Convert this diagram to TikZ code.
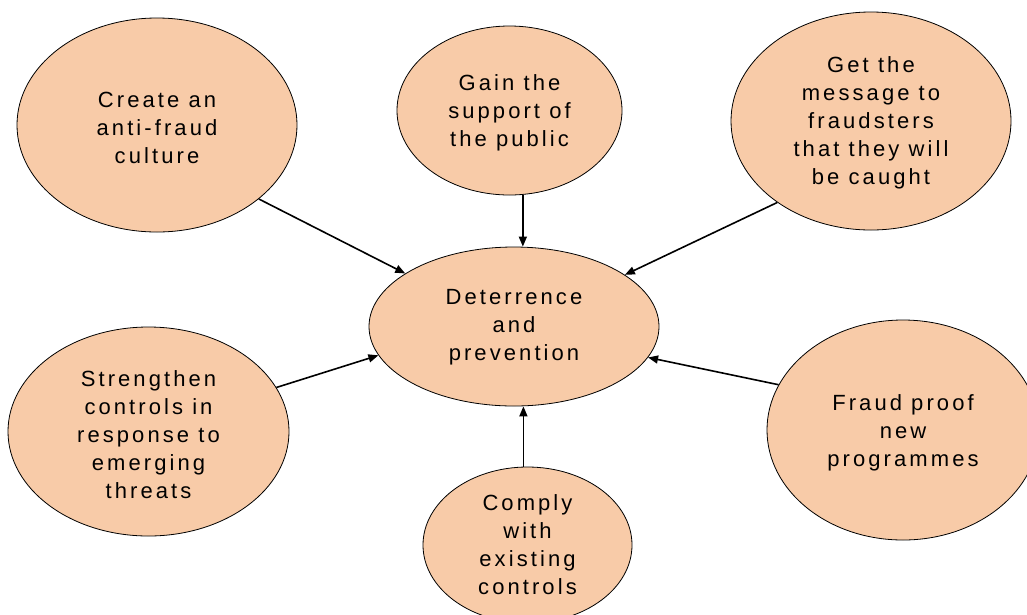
\documentclass[tikz,border=0pt]{standalone}
\usepackage{fontspec}
\usetikzlibrary{shapes.geometric,arrows.meta}
\newfontfamily\lab{Liberation Sans}[LetterSpace=14]
\definecolor{peach}{HTML}{F8CBA8}
\begin{document}
\begin{tikzpicture}[x=1pt,y=-1pt,
  blob/.style={ellipse,draw=black,line width=0.8pt,fill=peach,inner sep=0pt},
  txt/.style={align=center,font=\lab\fontsize{22}{28}\selectfont,inner sep=0pt},
  arr/.style={line width=1.6pt,-{Triangle[length=10pt,width=8pt]}}]
\useasboundingbox (0,0) rectangle (1027,614);
\node[blob,minimum width=280pt,minimum height=214pt] (create) at (157,125) {};
\node[txt] (createT) at (157,128) {Create an\\anti-fraud\\culture};
\node[blob,minimum width=225pt,minimum height=169pt] (gain) at (509.5,110.5) {};
\node[txt] (gainT) at (509.5,113) {Gain the\\support of\\the public};
\node[blob,minimum width=280pt,minimum height=218pt] (get) at (871,121) {};
\node[txt] (getT) at (871,123) {Get the\\message to\\fraudsters\\that they will\\be caught};
\node[blob,minimum width=290pt,minimum height=159pt] (det) at (514,326.5) {};
\node[txt] (detT) at (514,327) {Deterrence\\and\\prevention};
\node[blob,minimum width=281pt,minimum height=209pt] (str) at (148.5,431.5) {};
\node[txt] (strT) at (148.5,435) {Strengthen\\controls in\\response to\\emerging\\threats};
\node[blob,minimum width=272pt,minimum height=220pt] (fraud) at (903,430) {};
\node[txt] (fraudT) at (903,433) {Fraud proof\\new\\programmes};
\node[blob,minimum width=209pt,minimum height=156pt] (comply) at (527.5,545) {};
\node[txt] (complyT) at (527.5,545) {Comply\\with\\existing\\controls};
\draw[arr] (create.-36.6) -- (det.154.7);
\draw[arr] (gain.-81) -- (gain.-81 |- det.north);
\draw[arr] (get.-139.8) -- (det.25.3);
\draw[arr] (str.19.4) -- (det.192.6);
\draw[arr] (fraud.160.8) -- (det.-13.4);
\draw[arr] (comply.93.3) -- (comply.93.3 |- det.south);
\end{tikzpicture}
\end{document}
